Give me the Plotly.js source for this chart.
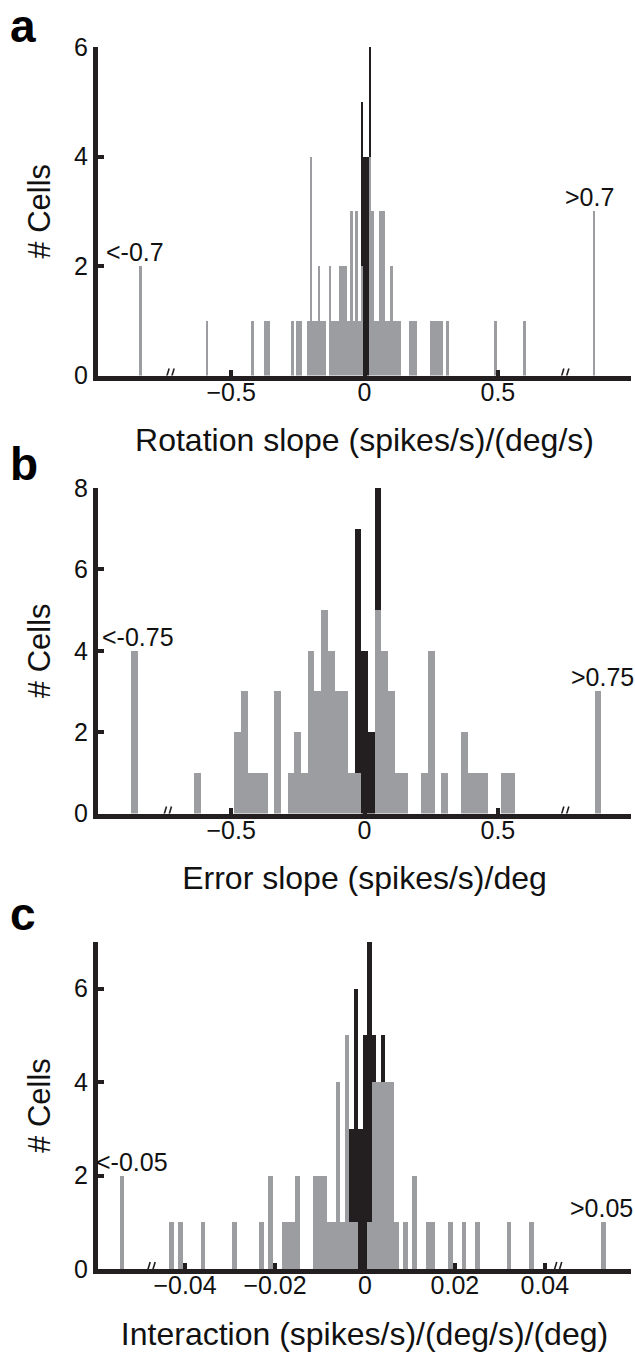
<!DOCTYPE html>
<html>
<head>
<meta charset="utf-8">
<script src="https://cdn.plot.ly/plotly-3.0.1.min.js"></script>
<style>html,body{margin:0;padding:0;background:#fff;}#chart{width:635px;height:1357px;}</style>
</head>
<body>
<div id="chart"></div>
<script>
// ---------- Panel a: Rotation slope (bin width 0.01) ----------
const xA = [-0.84, -0.59, -0.42, -0.37, -0.36, -0.27, -0.25, -0.24, -0.21, -0.20, -0.19, -0.18, -0.17, -0.16, -0.15,
            -0.13, -0.12, -0.11, -0.10, -0.09, -0.08, -0.07, -0.06, -0.05, -0.04, -0.03, -0.02, -0.01,
            0.02, 0.03, 0.04, 0.05, 0.06, 0.07, 0.08, 0.09, 0.10, 0.11, 0.12, 0.13, 0.17, 0.18, 0.19,
            0.25, 0.26, 0.27, 0.28, 0.29, 0.31, 0.49, 0.60, 0.86];
const grayA = [2, 1, 1, 1, 1, 1, 1, 1, 1, 4, 1, 1, 2, 1, 1,
               2, 1, 1, 1, 2, 2, 2, 1, 3, 1, 3, 1, 2,
               4, 3, 1, 1, 3, 3, 1, 1, 2, 1, 1, 1, 1, 1, 1,
               1, 1, 1, 1, 1, 1, 1, 1, 3];
const xBlackA = [-0.01, 0.00, 0.01, 0.02];
const blackA = [3, 4, 4, 2];
const ticksA = [-0.5, 0, 0.5, 1];
const tickTextA = ['\u22120.5', '0', '0.5', ''];
const outA = [{x: -0.84, n: 2, label: '<-0.7'}, {x: 0.86, n: 3, label: '>0.7'}];
const breaksA = [-0.74, 0.74];

// ---------- Panel b: Error slope (bin width 0.025) ----------
const xB = [-0.8625, -0.625, -0.475, -0.45, -0.425, -0.4, -0.375, -0.325, -0.275, -0.25, -0.225, -0.2, -0.175,
            -0.15, -0.125, -0.1, -0.075, -0.05, -0.025, 0.05, 0.075, 0.1, 0.125, 0.15, 0.225, 0.25, 0.3,
            0.375, 0.4, 0.425, 0.45, 0.525, 0.55, 0.875];
const grayB = [4, 1, 2, 3, 1, 1, 1, 3, 1, 2, 1, 4, 3,
               5, 4, 3, 3, 1, 1, 5, 4, 3, 1, 1, 1, 4, 1,
               2, 1, 1, 1, 1, 1, 3];
const xBlackB = [-0.025, 0, 0.025, 0.05];
const blackB = [6, 4, 2, 3];
const ticksB = [-0.5, 0, 0.5, 1];
const tickTextB = ['\u22120.5', '0', '0.5', ''];
const outB = [{x: -0.8625, n: 4, label: '<-0.75'}, {x: 0.875, n: 3, label: '>0.75'}];
const breaksB = [-0.75, 0.74];

// ---------- Panel c: Interaction (bin width 0.001) ----------
const xC = [-0.054, -0.043, -0.041, -0.036, -0.029, -0.023, -0.021, -0.018, -0.017, -0.016, -0.015,
            -0.011, -0.010, -0.009, -0.008, -0.007, -0.006, -0.005, -0.004, -0.003, -0.002,
            0.001, 0.002, 0.003, 0.004, 0.005, 0.006, 0.007, 0.009, 0.011, 0.014, 0.015,
            0.019, 0.022, 0.025, 0.032, 0.037, 0.053];
const grayC = [2, 1, 1, 1, 1, 1, 2, 1, 1, 1, 2,
               2, 2, 2, 1, 1, 4, 1, 5, 1, 1,
               1, 4, 4, 4, 4, 4, 1, 1, 2, 1, 1,
               1, 1, 1, 1, 1, 1];
const xBlackC = [-0.003, -0.002, -0.001, 0, 0.001, 0.002, 0.004];
const blackC = [2, 5, 3, 5, 6, 1, 1];
const ticksC = [-0.04, -0.02, 0, 0.02, 0.04, 0.0592];
const tickTextC = ['\u22120.04', '\u22120.02', '0', '0.02', '0.04', ''];
const outC = [{x: -0.054, n: 2, label: '<-0.05'}, {x: 0.053, n: 1, label: '>0.05'}];
const breaksC = [-0.0482, 0.0422];

// ---------- styling ----------
const FONT = 'Liberation Sans, Arial, Helvetica, sans-serif';
const GRAY = '#9c9da1';
const BLACK = '#231f20';
const TXT = '#111111';
const W = 635, H = 1357;
const xDom = [97.8 / W, 631.2 / W];
const yDomA = [1 - 375.5 / H, 1 - 47 / H];
const yDomB = [1 - 813.5 / H, 1 - 488 / H];
const yDomC = [1 - 1269 / H, 1 - 942 / H];
// horizontal nudges (px) of the outlier labels relative to their bars: [left, right]
const labelShift = {a: [-5, -4], b: [4, 5], c: [10, -2]};

function bars(x, y, color, width, xa, ya) {
  return {type: 'bar', x: x, y: y, width: width, xaxis: xa, yaxis: ya,
          marker: {color: color, line: {width: 0}}, hoverinfo: 'skip', showlegend: false};
}

const data = [
  bars(xA, grayA, GRAY, 0.01, 'x', 'y'),
  bars(xBlackA, blackA, BLACK, 0.01, 'x', 'y'),
  bars(xB, grayB, GRAY, 0.025, 'x2', 'y2'),
  bars(xBlackB, blackB, BLACK, 0.025, 'x2', 'y2'),
  bars(xC, grayC, GRAY, 0.001, 'x3', 'y3'),
  bars(xBlackC, blackC, BLACK, 0.001, 'x3', 'y3')
];

function xaxis(range, tv, tt, title, anchor) {
  return {domain: xDom, range: range, anchor: anchor, tickmode: 'array', tickvals: tv, ticktext: tt,
          showline: true, linecolor: BLACK, linewidth: 5, ticks: 'inside', ticklen: 6, tickwidth: 4,
          tickcolor: BLACK, showgrid: false, zeroline: false, fixedrange: true,
          ticklabelstandoff: -10,
          tickfont: {family: FONT, size: 25, color: TXT},
          title: {text: title, font: {family: FONT, size: 32, color: TXT}, standoff: 26}};
}
function yaxis(dom, range, tv, anchor) {
  return {domain: dom, range: range, anchor: anchor, tickmode: 'array', tickvals: tv,
          showline: true, linecolor: BLACK, linewidth: 5, ticks: 'inside', ticklen: 6, tickwidth: 4,
          tickcolor: BLACK, showgrid: false, zeroline: false, fixedrange: true,
          tickfont: {family: FONT, size: 25, color: TXT},
          title: {text: '# Cells', font: {family: FONT, size: 31, color: TXT}, standoff: 16}};
}

const annotations = [];
const shapes = [];
function addOutliers(list, xa, ya, shifts) {
  list.forEach((o, i) => annotations.push({xref: xa, yref: ya, x: o.x, y: o.n, text: o.label, showarrow: false,
    yanchor: 'bottom', xanchor: 'center', xshift: shifts[i], yshift: -2,
    font: {family: FONT, size: 25, color: TXT}}));
}
function addBreaks(list, xa, ya) {
  list.forEach(b => {
    shapes.push({type: 'path', xref: xa, yref: ya, xsizemode: 'pixel', ysizemode: 'pixel', xanchor: b, yanchor: 0,
      path: 'M -4,-13 L 2,7 L 7,7 L 1,-13 Z', fillcolor: '#ffffff', line: {width: 0}, layer: 'above'});
    shapes.push({type: 'line', xref: xa, yref: ya, xsizemode: 'pixel', ysizemode: 'pixel', xanchor: b, yanchor: 0,
      x0: -4, y0: -13, x1: 2, y1: 7, line: {color: BLACK, width: 1.6}, layer: 'above'});
    shapes.push({type: 'line', xref: xa, yref: ya, xsizemode: 'pixel', ysizemode: 'pixel', xanchor: b, yanchor: 0,
      x0: 1, y0: -13, x1: 7, y1: 7, line: {color: BLACK, width: 1.6}, layer: 'above'});
  });
}
addOutliers(outA, 'x', 'y', labelShift.a);
addOutliers(outB, 'x2', 'y2', labelShift.b);
addOutliers(outC, 'x3', 'y3', labelShift.c);
addBreaks(breaksA, 'x', 'y');
addBreaks(breaksB, 'x2', 'y2');
addBreaks(breaksC, 'x3', 'y3');

[['a', 44], ['b', 482], ['c', 932]].forEach(p => annotations.push({
  xref: 'paper', yref: 'paper', x: 8 / W, y: 1 - p[1] / H, xanchor: 'left', yanchor: 'bottom',
  text: '<b>' + p[0] + '</b>', showarrow: false, yshift: -10,
  font: {family: FONT, size: 46, color: '#000'}}));

const layout = {
  width: W, height: H, margin: {l: 0, r: 0, t: 0, b: 0},
  paper_bgcolor: '#fff', plot_bgcolor: '#fff', barmode: 'stack', showlegend: false,
  font: {family: FONT},
  xaxis: xaxis([-1, 1], ticksA, tickTextA, 'Rotation slope (spikes/s)/(deg/s)', 'y'),
  yaxis: yaxis(yDomA, [0, 6], [0, 2, 4, 6], 'x'),
  xaxis2: xaxis([-1, 1], ticksB, tickTextB, 'Error slope (spikes/s)/deg', 'y2'),
  yaxis2: yaxis(yDomB, [0, 8], [0, 2, 4, 6, 8], 'x2'),
  xaxis3: xaxis([-0.0594, 0.0592], ticksC, tickTextC, 'Interaction (spikes/s)/(deg/s)/(deg)', 'y3'),
  yaxis3: yaxis(yDomC, [0, 7], [0, 2, 4, 6], 'x3'),
  annotations: annotations,
  shapes: shapes
};

Plotly.newPlot('chart', data, layout, {staticPlot: true, displayModeBar: false});
</script>
</body>
</html>
